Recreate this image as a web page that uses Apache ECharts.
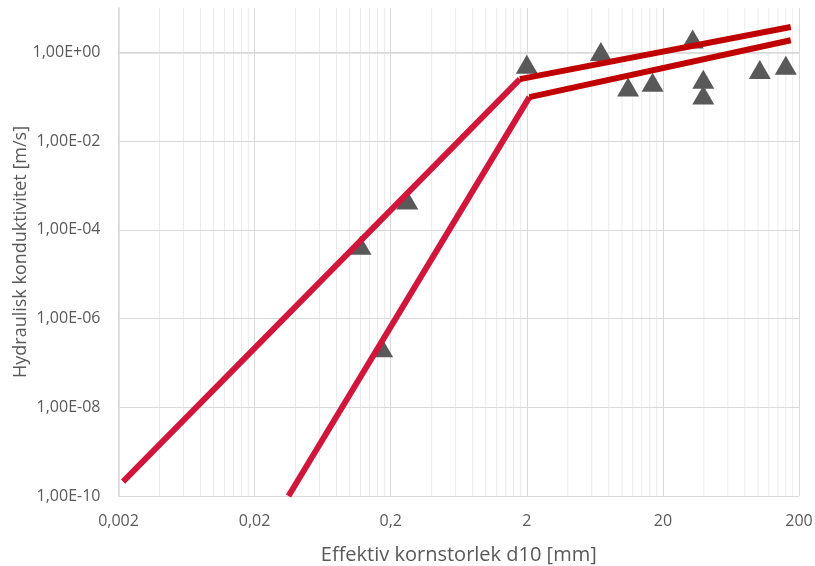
<!DOCTYPE html>
<html><head><meta charset="utf-8">
<script src="https://cdn.jsdelivr.net/npm/echarts@6/dist/echarts.min.js"></script>
<style>html,body{margin:0;padding:0;background:#fff}#c{width:815px;height:566px}</style>
</head><body><div id="c"></div>
<script>
// Axis tick labels
const xTickLabels = ['0,002','0,02','0,2','2','20','200'];
const yTickLabels = ['1,00E-10','1,00E-08','1,00E-06','1,00E-04','1,00E-02','1,00E+00'];
// Measured points: effective grain size d10 [mm] and hydraulic conductivity [m/s]
const pointD10 = [2, 7.0, 11.1, 16.8, 33.1, 39.6, 39.6, 103, 160, 0.265, 0.12, 0.173];
const pointK   = [0.54, 1.04, 0.166, 0.212, 1.99, 0.248, 0.11, 0.41, 0.51, 4.7e-4, 4.5e-5, 2.2e-7];
// Envelope lines
const upperSteepD = [0.00216, 1.78];
const upperSteepK = [2.1e-10, 0.25];
const upperFlatD  = [1.78, 174];
const upperFlatK  = [0.25, 3.74];
const lowerSteepD = [0.0355, 2.09];
const lowerSteepK = [1.0e-10, 0.098];
const lowerFlatD  = [2.09, 174];
const lowerFlatK  = [0.098, 1.87];

const X0 = 0.002;
const lx = v => Math.log10(v / X0);
const ly = v => Math.log10(v);
const pairs = (xs, ys) => xs.map((x, i) => [lx(x), ly(ys[i])]);

// minor gridlines at k*0.002*10^d for k = 2..9 (axis styling)
const minorSeries = [];
for (let d = 0; d < 5; d++) for (let k = 2; k <= 9; k++) {
  const x = d + Math.log10(k);
  minorSeries.push({type: 'line', data: [[x, -10], [x, 1]], showSymbol: false, silent: true, z: 1,
    lineStyle: {color: '#ebebeb', width: 1}, itemStyle: {color: '#ebebeb'}});
}

const textColor = '#595959';
const font = '"Open Sans", sans-serif';
const chart = echarts.init(document.getElementById('c'));
chart.setOption({
  animation: false,
  grid: {left: 118.5, right: 16, top: 8, bottom: 70, outerBoundsMode: 'none', containLabel: false},
  xAxis: {
    type: 'value', min: 0, max: 5, interval: 1, z: 3,
    name: 'Effektiv kornstorlek d10 [mm]', nameLocation: 'middle', nameGap: 49, nameMoveOverlap: false,
    nameTextStyle: {color: textColor, fontSize: 20, fontFamily: font},
    axisLine: {show: true, lineStyle: {color: '#d9d9d9', width: 1.5}},
    axisTick: {show: false},
    axisLabel: {color: textColor, fontSize: 16, fontFamily: font, margin: 17,
      formatter: v => xTickLabels[Math.round(v)] ?? ''},
    splitLine: {show: true, lineStyle: {color: '#d9d9d9', width: 1}}
  },
  yAxis: {
    type: 'value', min: -10, max: 1, interval: 2, z: 3,
    name: 'Hydraulisk konduktivitet [m/s]', nameLocation: 'middle', nameGap: 89, nameMoveOverlap: false,
    nameTextStyle: {color: textColor, fontSize: 18, fontFamily: font},
    axisLine: {show: true, lineStyle: {color: '#d9d9d9', width: 1.5}},
    axisTick: {show: false},
    axisLabel: {color: textColor, fontSize: 16, fontFamily: font, margin: 18, showMaxLabel: false,
      formatter: v => { const i = (v + 10) / 2; return Number.isInteger(i) ? (yTickLabels[i] ?? '') : ''; }},
    splitLine: {show: true, showMaxLine: false, lineStyle: {color: '#d9d9d9', width: 1}}
  },
  series: minorSeries.concat([
    {type: 'scatter', data: pairs(pointD10, pointK), symbol: 'triangle', symbolSize: [22, 19],
      itemStyle: {color: '#595959', opacity: 1}, z: 3},
    {type: 'line', data: pairs(upperSteepD, upperSteepK), showSymbol: false, lineStyle: {color: '#d0163a', width: 6}, itemStyle: {color: '#d0163a'}, z: 4},
    {type: 'line', data: pairs(lowerSteepD, lowerSteepK), showSymbol: false, lineStyle: {color: '#d0163a', width: 6}, itemStyle: {color: '#d0163a'}, z: 4},
    {type: 'line', data: pairs(upperFlatD, upperFlatK), showSymbol: false, lineStyle: {color: '#c00000', width: 6}, itemStyle: {color: '#c00000'}, z: 5},
    {type: 'line', data: pairs(lowerFlatD, lowerFlatK), showSymbol: false, lineStyle: {color: '#c00000', width: 6}, itemStyle: {color: '#c00000'}, z: 5}
  ])
});
</script></body></html>
